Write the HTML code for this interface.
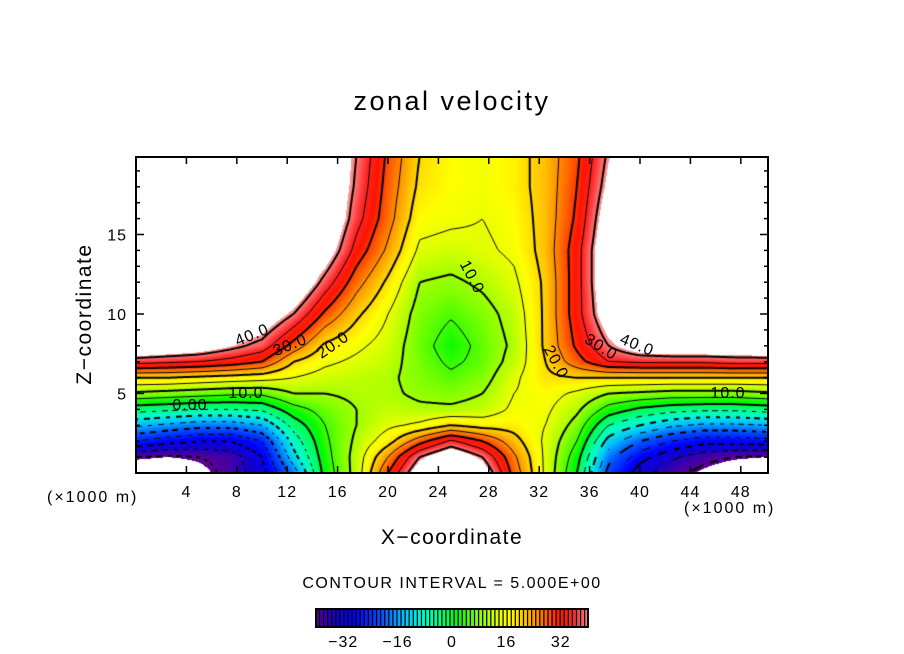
<!DOCTYPE html>
<html><head><meta charset="utf-8">
<style>
html,body{margin:0;padding:0;background:#fff;}
#root{position:relative;width:904px;height:654px;overflow:hidden;font-family:"Liberation Sans",sans-serif;color:#000;}
.t{position:absolute;white-space:nowrap;}
</style></head>
<body>
<div id="root">
<div class="t" style="left:0;width:904px;text-align:center;top:86px;font-size:27px;letter-spacing:2.5px;">zonal velocity</div>
<div class="t" style="left:-15px;top:302px;width:200px;text-align:center;font-size:21px;letter-spacing:1.5px;transform:rotate(-90deg);">Z&#8722;coordinate</div>
<div class="t" style="left:352px;width:200px;text-align:center;top:526px;font-size:21px;letter-spacing:1.5px;">X&#8722;coordinate</div>
<div class="t" style="left:47px;top:489px;font-size:16px;letter-spacing:2px;">(×1000 m)</div>
<div class="t" style="left:684px;top:500px;font-size:16px;letter-spacing:2px;">(×1000 m)</div>
<div class="t" style="left:0;width:904px;text-align:center;top:575px;font-size:16px;letter-spacing:1.5px;">CONTOUR INTERVAL = 5.000E+00</div>
<canvas id="field" width="632" height="316" style="position:absolute;left:136px;top:157px;"></canvas>
<svg id="ov" width="904" height="654" style="position:absolute;left:0;top:0;"></svg>
</div>
<script>
const xNodes=[0,2.5,5,7.5,10,12.5,15,17.5,20,22.5,25,27.5,30,32.5,35,37.5,40,42.5,45,47.5,50];
const zNodes=[0,1,2,3,4,5,6,7,8,10,12,14,16,18,20];
const col00=[-46,-40,-25,-14,-3,9,20,37,50,50,50,50,50,50,50];
const col02=[-47,-41,-28,-16,-4,8,20,36,48,50,50,50,50,50,50];
const col05=[-43,-40,-30,-18,-5,7,19,35,46,50,50,50,50,50,50];
const col07=[-38,-38,-30,-18,-5,6,18,33,42,50,50,50,50,50,50];
const col10=[-32,-30,-25,-15,-4,6,17,30,38,48,50,50,50,50,50];
const col12=[-18,-12,-8,-3,3,10,15,20,28,40,50,50,50,50,50];
const col15=[2,3,4,5,7,10,13,16,19,29,38,46,50,50,50];
const col17=[12,12,11,10,10,11,12,14,16,21,27,33,37,39,40];
const col20=[30,25,18,14,12,11,11,12,13,15,19,24,27,28,29];
const col22=[46,40,28,16,11,9,8,7.5,7,8,10,14,17,19,20];
const col25=[50,48,36,20,11,8,6,4,2.5,5.5,9,13,16,17,17];
const col27=[46,40,30,18,12,10,8,6.5,6.5,8,11,14,15,16,16];
const col30=[28,26,22,18,16,15,14,12,11,12,14,16,17,18,18];
const col32=[14,14,14,15,16,17,19,20,21,21,21,22,22,22,22];
const col35=[0,2,5,8,11,14,20,28,31,33,33,33,31,30,29];
const col37=[-22,-18,-12,-5,3,10,20,35,40,46,48,48,46,43,41];
const col40=[-33,-28,-20,-10,-1,9,20,36,46,50,50,50,50,50,50];
const col42=[-38,-34,-25,-14,-3,8,20,36,48,50,50,50,50,50,50];
const col45=[-42,-38,-28,-16,-4,8,20,36,48,50,50,50,50,50,50];
const col47=[-46,-40,-28,-16,-4,8,20,37,48,50,50,50,50,50,50];
const col50=[-48,-41,-27,-15,-3,9,20,37,49,50,50,50,50,50,50];
const columns=[col00,col02,col05,col07,col10,col12,col15,col17,col20,col22,col25,col27,col30,col32,col35,col37,col40,col42,col45,col47,col50];
const xTicks=[4,8,12,16,20,24,28,32,36,40,44,48];
const zTicks=[5,10,15];
const barTicks=[-32,-16,0,16,32];

const X0=136,Y0=157,W=632,H=316,PXU=12.6,PZU=15.9;
function xs(v){return X0+v*PXU;}
function zs(v){return Y0+H-v*PZU;}
function findIdx(arr,v){let i=0;while(i<arr.length-2&&v>arr[i+1])i++;return i;}
function val(x,z){
  const i=findIdx(xNodes,x),j=findIdx(zNodes,z);
  let tx=(x-xNodes[i])/(xNodes[i+1]-xNodes[i]);tx=Math.max(0,Math.min(1,tx));
  let tz=(z-zNodes[j])/(zNodes[j+1]-zNodes[j]);tz=Math.max(0,Math.min(1,tz));
  const a=columns[i][j],b=columns[i+1][j],c=columns[i][j+1],d=columns[i+1][j+1];
  return (a*(1-tx)+b*tx)*(1-tz)+(c*(1-tx)+d*tx)*tz;
}
const stops=[[-40,[90,0,150]],[-34,[20,0,200]],[-28,[0,0,255]],[-20,[0,90,255]],[-14,[0,190,255]],[-8,[0,255,200]],[-2,[0,255,100]],[2,[0,250,0]],[8,[130,255,0]],[14,[225,255,0]],[17,[255,255,0]],[22,[255,190,0]],[27,[255,110,0]],[32,[255,20,0]],[36,[255,40,40]],[40,[255,125,125]],[42,[255,160,160]]];
function color(v){
  if(v>41.5||v<-41)return null;
  if(v<=stops[0][0])return stops[0][1];
  for(let k=0;k<stops.length-1;k++){
    if(v<=stops[k+1][0]){const t=(v-stops[k][0])/(stops[k+1][0]-stops[k][0]);
      return stops[k][1].map((c,n)=>Math.round(c+(stops[k+1][1][n]-c)*t));}
  }
  return stops[stops.length-1][1];
}
const cv=document.getElementById('field'),ctx=cv.getContext('2d');
const img=ctx.createImageData(W,H);
for(let py=0;py<H;py++)for(let px=0;px<W;px++){
  const v=val((px+0.5)/PXU,(H-py-0.5)/PZU);const c=color(v);const o=(py*W+px)*4;
  if(c){img.data[o]=c[0];img.data[o+1]=c[1];img.data[o+2]=c[2];}else{img.data[o]=img.data[o+1]=img.data[o+2]=255;}
  img.data[o+3]=255;
}
ctx.putImageData(img,0,0);
const S=2,NX=Math.ceil(W/S)+1,NZ=Math.ceil(H/S)+1,g=[];
for(let i=0;i<NX;i++){g[i]=[];for(let j=0;j<NZ;j++)g[i][j]=val(i*S/PXU,(H-j*S)/PZU);}
for(let L=-40;L<=40;L+=5){
  const segs=[];
  for(let i=0;i<NX-1;i++)for(let j=0;j<NZ-1;j++){
    const p=[[i,j],[i+1,j],[i+1,j+1],[i,j+1]],pts=[];
    for(let e=0;e<4;e++){const A=p[e],B=p[(e+1)%4],va=g[A[0]][A[1]],vb=g[B[0]][B[1]];
      if((va<L)!==(vb<L)){const t=(L-va)/(vb-va);pts.push([(A[0]+(B[0]-A[0])*t)*S,(A[1]+(B[1]-A[1])*t)*S]);}}
    if(pts.length>=2)segs.push([pts[0],pts[1]]);if(pts.length===4)segs.push([pts[2],pts[3]]);
  }
  ctx.beginPath();ctx.strokeStyle='#000';ctx.lineWidth=(L%10===0)?2:1;
  segs.forEach(s=>{const mx=(s[0][0]+s[1][0])/2,my=(s[0][1]+s[1][1])/2;
    if(L<0&&Math.floor((mx+my)/5)%2===1)return;
    ctx.moveTo(s[0][0],s[0][1]);ctx.lineTo(s[1][0],s[1][1]);});
  ctx.stroke();
}
const NS='http://www.w3.org/2000/svg',ov=document.getElementById('ov');
function mk(tag,attrs){const e=document.createElementNS(NS,tag);for(const k in attrs)e.setAttribute(k,attrs[k]);ov.appendChild(e);return e;}
const frame=mk('rect',{x:X0,y:Y0,width:W,height:H,fill:'none',stroke:'#000','stroke-width':2});


xTicks.forEach(v=>{
  const x=xs(v);
  const t1=mk('line',{x1:x,y1:Y0+H,x2:x,y2:Y0+H-7,stroke:'#000','stroke-width':1.5});
  
  
  const t2=mk('line',{x1:x,y1:Y0,x2:x,y2:Y0+7,stroke:'#000','stroke-width':1.5});
  
  
  const tl=mk('text',{x:x,y:497,'text-anchor':'middle','font-size':16,'letter-spacing':1,'font-family':'Liberation Sans, sans-serif'});
  tl.textContent=v;
  
  
});
for(let v=1;v<20;v++){
  const y=zs(v),len=(v%5===0)?8:4;
  const a=mk('line',{x1:X0,y1:y,x2:X0+len,y2:y,stroke:'#000','stroke-width':1.5});
  
  
  const b=mk('line',{x1:X0+W,y1:y,x2:X0+W-len,y2:y,stroke:'#000','stroke-width':1.5});
  
  
}
zTicks.forEach(v=>{
  const tl=mk('text',{x:127,y:zs(v)+6,'text-anchor':'end','font-size':16,'letter-spacing':1,'font-family':'Liberation Sans, sans-serif'});
  tl.textContent=v;
  
  
});
const labels=[["40.0",252,340,-22],["30.0",290,350,-22],["20.0",333,350,-35],["10.0",246,398,0],["0.00",190,410,0],["10.0",472,282,62],["20.0",556,367,62],["30.0",601,352,32],["40.0",637,350,22],["10.0",728,398,0]];
labels.forEach(l=>{
  const t=mk('text',{x:l[1],y:l[2],'text-anchor':'middle','font-size':16,'letter-spacing':1,'font-family':'Liberation Sans, sans-serif',transform:`rotate(${l[3]} ${l[1]} ${l[2]-5})`});
  t.textContent=l[0];
  
  
});
const CB0=316,CB1=588,CBY=609,CBH=18;
function cbx(v){return CB0+(v+40)/80*(CB1-CB0);}
const cbbg=mk('rect',{x:CB0,y:CBY,width:CB1-CB0,height:CBH,fill:'#000'});


for(let v=-40;v<40;v+=1.2){
  const c=color(Math.min(v+0.6,41))||[255,170,170];
  const r=mk('rect',{x:cbx(v),y:CBY,width:(cbx(v+1.2)-cbx(v))*0.7,height:CBH,fill:`rgb(${c[0]},${c[1]},${c[2]})`});
  
  
}
const cbf=mk('rect',{x:CB0,y:CBY,width:CB1-CB0,height:CBH,fill:'none',stroke:'#000','stroke-width':2});


barTicks.forEach(v=>{
  const t=mk('text',{x:cbx(v),y:647,'text-anchor':'middle','font-size':16,'letter-spacing':1,'font-family':'Liberation Sans, sans-serif'});
  t.textContent=(v<0?'\u2212'+(-v):v);
  
  
});
</script>
</body></html>
